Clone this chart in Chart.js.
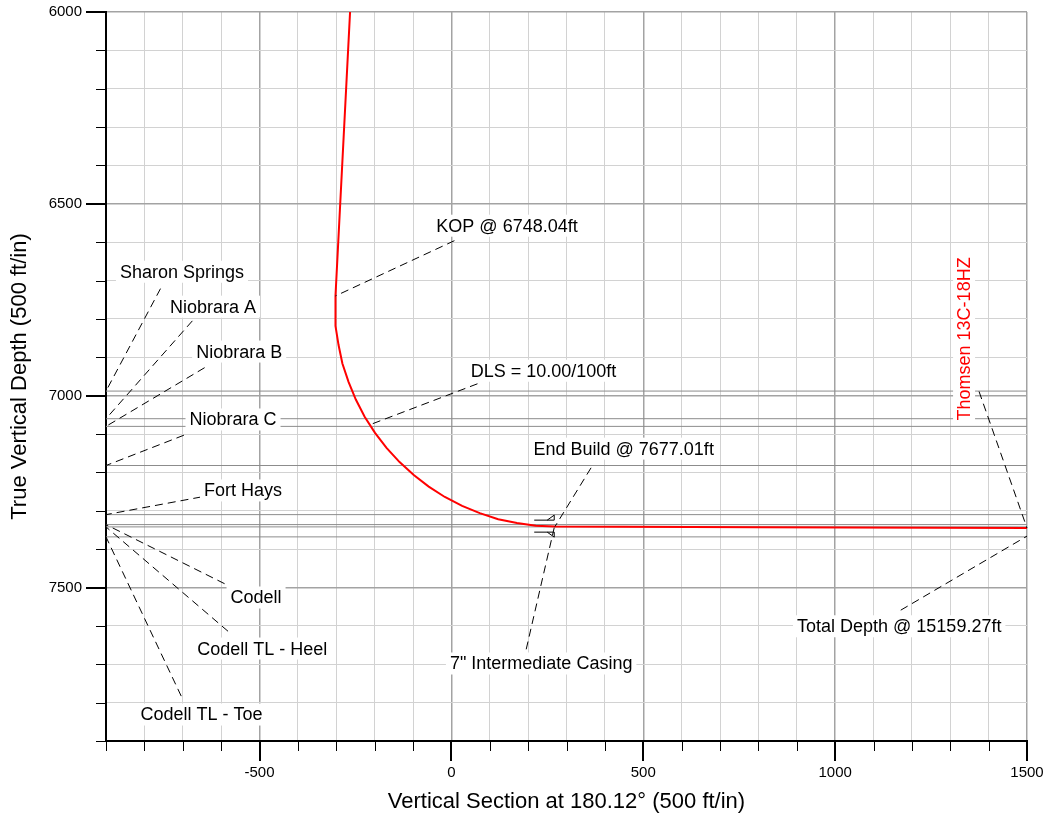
<!DOCTYPE html>
<html>
<head>
<meta charset="utf-8">
<title>Thomsen 13C-18HZ - Vertical Section</title>
<script src="https://cdn.jsdelivr.net/npm/chart.js@4.4.1/dist/chart.umd.min.js"></script>
<style>
  html, body { margin: 0; padding: 0; background: #fff; }
  #wrap { width: 1044px; height: 815px; }
</style>
</head>
<body>
<div id="wrap"><canvas id="sectionChart"></canvas></div>
<script>
// axis ranges and labelled ticks (ft)
const vsRange = [-900, 1500];
const tvdRange = [6000, 7900];
const vsTickLabels = [-500, 0, 500, 1000, 1500];
const tvdTickLabels = [6000, 6500, 7000, 7500];

// well path: vertical section / true vertical depth
const wellVS = [-264, -302, -303, -301, -294, -284, -268, -249, -226, -199, -169, -135,
  -98, -59, -17, 28, 74, 122, 171, 220, 270, 800, 1500];
const wellTVD = [6000, 6740, 6768, 6818, 6868, 6916, 6964, 7010, 7055, 7097, 7136, 7173,
  7207, 7237, 7264, 7287, 7306, 7322, 7332, 7339, 7341, 7343, 7345];

// formation tops
const formationNames = ['Sharon Springs', 'Niobrara A', 'Niobrara B', 'Niobrara C',
  'Fort Hays', 'Codell', 'Codell TL - Heel', 'Codell TL - Toe'];
const formationTVD = [6988, 7060, 7080, 7182, 7310, 7336, 7342, 7368];

// points on the well with a callout
const markerNames = ['KOP @ 6748.04ft', 'DLS = 10.00/100ft', 'End Build @ 7677.01ft',
  '7" Intermediate Casing', 'Total Depth @ 15159.27ft'];
const markerVS = [-302, -213, 270, 268, 1500];
const markerTVD = [6740, 7076, 7341, 7340, 7366];

const wellName = 'Thomsen 13C-18HZ';

// callout placement, in ft: where the text sits and where the leader leaves it
const callouts = [
  { text: formationNames[0], at: [-702, 6677], from: [-758, 6721], to: [vsRange[0], formationTVD[0]] },
  { text: formationNames[1], at: [-621, 6768], from: [-675, 6805], to: [vsRange[0], formationTVD[1]] },
  { text: formationNames[2], at: [-553, 6885], from: [-643, 6927], to: [vsRange[0], formationTVD[2]] },
  { text: formationNames[3], at: [-569, 7062], from: [-697, 7103], to: [vsRange[0], formationTVD[3]] },
  { text: formationNames[4], at: [-543, 7247], from: [-652, 7264], to: [vsRange[0], formationTVD[4]] },
  { text: formationNames[5], at: [-509, 7526], from: [-591, 7490], to: [vsRange[0], formationTVD[5]] },
  { text: formationNames[6], at: [-493, 7659], from: [-582, 7614], to: [vsRange[0], formationTVD[6]] },
  { text: formationNames[7], at: [-651, 7831], from: [-704, 7783], to: [vsRange[0], formationTVD[7]] },
  { text: markerNames[0], at: [145, 6557], from: [8, 6596], to: [markerVS[0], markerTVD[0]] },
  { text: markerNames[1], at: [240, 6935], from: [68, 6969], to: [markerVS[1], markerTVD[1]] },
  { text: markerNames[2], at: [449, 7138], from: [364, 7188], to: [markerVS[2], markerTVD[2]] },
  { text: markerNames[3], at: [234, 7698], from: [195, 7661], to: [markerVS[3], markerTVD[3] + 4] },
  { text: markerNames[4], at: [1167, 7601], from: [1171, 7559], to: [markerVS[4], markerTVD[4]] },
  { text: wellName, at: [1336, 6852], from: [1375, 6989], to: [wellVS[wellVS.length - 1], wellTVD[wellTVD.length - 1]], rotate: true, color: '#ff0000' }
];

Chart.defaults.font.family = '"Liberation Sans", Arial, sans-serif';
Chart.defaults.color = '#000';

const isMajor = v => v % 500 === 0;

// custom tick marks: long at every 500 ft, short at every 100 ft
const axisTicks = {
  id: 'axisTicks',
  afterDraw(chart) {
    const { ctx, chartArea: a, scales: { x, y } } = chart;
    ctx.save();
    ctx.strokeStyle = '#000';
    x.ticks.forEach(t => {
      const px = Math.round(x.getPixelForValue(t.value));
      const major = isMajor(t.value);
      ctx.lineWidth = major ? 2 : 1;
      ctx.beginPath();
      ctx.moveTo(major ? px : px + 0.5, a.bottom);
      ctx.lineTo(major ? px : px + 0.5, a.bottom + (major ? 20 : 10));
      ctx.stroke();
    });
    y.ticks.forEach(t => {
      const py = Math.round(y.getPixelForValue(t.value));
      const major = isMajor(t.value);
      ctx.lineWidth = major ? 2 : 1;
      ctx.beginPath();
      ctx.moveTo(a.left, major ? py : py + 0.5);
      ctx.lineTo(a.left - (major ? 20 : 10), major ? py : py + 0.5);
      ctx.stroke();
    });
    ctx.restore();
  }
};

// casing shoe symbol plus dashed callouts with white text boxes
const callouts_plugin = {
  id: 'callouts',
  afterDatasetsDraw(chart) {
    const { ctx, scales: { x, y } } = chart;
    ctx.save();

    // casing symbol
    const cx = x.getPixelForValue(markerVS[3]);
    const cy = y.getPixelForValue(markerTVD[3]);
    ctx.strokeStyle = '#000';
    ctx.lineWidth = 1;
    [-1, 1].forEach(s => {
      ctx.beginPath();
      ctx.moveTo(cx - 20, cy + s * 6);
      ctx.lineTo(cx, cy + s * 6);
      ctx.lineTo(cx, cy + s * 11);
      ctx.lineTo(cx - 7, cy + s * 6);
      ctx.stroke();
    });

    ctx.font = '18px "Liberation Sans", Arial, sans-serif';
    ctx.textAlign = 'center';
    ctx.textBaseline = 'middle';
    callouts.forEach(c => {
      const lx = x.getPixelForValue(c.at[0]);
      const ly = y.getPixelForValue(c.at[1]);
      ctx.setLineDash([8, 5]);
      ctx.strokeStyle = '#000';
      ctx.lineWidth = 1;
      ctx.beginPath();
      ctx.moveTo(x.getPixelForValue(c.from[0]), y.getPixelForValue(c.from[1]));
      ctx.lineTo(x.getPixelForValue(c.to[0]), y.getPixelForValue(c.to[1]));
      ctx.stroke();
      ctx.setLineDash([]);

      const w = ctx.measureText(c.text).width;
      ctx.save();
      ctx.translate(lx, ly);
      if (c.rotate) ctx.rotate(-Math.PI / 2);
      ctx.fillStyle = '#fff';
      ctx.fillRect(-w / 2 - 4, -11, w + 8, 22);
      ctx.fillStyle = c.color || '#000';
      ctx.fillText(c.text, 0, 1);
      ctx.restore();
    });
    ctx.restore();
  }
};

const toPoints = (xs, ys) => xs.map((v, i) => ({ x: v, y: ys[i] }));

const datasets = [
  {
    label: wellName,
    data: toPoints(wellVS, wellTVD),
    borderColor: '#ff0000',
    borderWidth: 2,
    pointRadius: 0,
    showLine: true,
    tension: 0
  }
].concat(formationTVD.map((tvd, i) => ({
  label: formationNames[i],
  data: toPoints(vsRange, [tvd, tvd]),
  borderColor: '#8c8c8c',
  borderWidth: 1,
  pointRadius: 0,
  showLine: true
})));

const chart = new Chart(document.getElementById('sectionChart'), {
  type: 'scatter',
  data: { datasets },
  options: {
    responsive: true,
    maintainAspectRatio: false,
    animation: false,
    layout: { padding: { top: 12, right: 17, left: 0, bottom: 0 } },
    plugins: {
      legend: { display: false },
      tooltip: { enabled: false }
    },
    scales: {
      x: {
        type: 'linear',
        min: vsRange[0],
        max: vsRange[1],
        afterFit: s => { s.height = 74; s.paddingLeft = 0; s.paddingRight = 0; },
        ticks: {
          stepSize: 100,
          autoSkip: false,
          maxRotation: 0,
          padding: 23,
          font: { size: 15 },
          callback: v => vsTickLabels.includes(v) ? String(v) : ''
        },
        grid: {
          drawTicks: false,
          color: c => isMajor(c.tick.value) ? '#a3a3a3' : '#d2d2d2',
          lineWidth: c => isMajor(c.tick.value) ? 1.5 : 1
        },
        border: { color: '#000', width: 2 },
        title: {
          display: true,
          text: 'Vertical Section at 180.12° (500 ft/in)',
          font: { size: 22 },
          padding: { top: 0, bottom: 0 }
        }
      },
      y: {
        type: 'linear',
        reverse: true,
        min: tvdRange[0],
        max: tvdRange[1],
        afterFit: s => { s.width = 106; s.paddingTop = 0; s.paddingBottom = 0; },
        ticks: {
          stepSize: 100,
          autoSkip: false,
          padding: 24,
          font: { size: 15 },
          callback: v => tvdTickLabels.includes(v) ? String(v) : ''
        },
        grid: {
          drawTicks: false,
          color: c => isMajor(c.tick.value) ? '#a3a3a3' : '#d2d2d2',
          lineWidth: c => isMajor(c.tick.value) ? 1.5 : 1
        },
        border: { color: '#000', width: 2 },
        title: {
          display: true,
          text: 'True Vertical Depth (500 ft/in)',
          font: { size: 22 },
          padding: { top: 7, bottom: 0 }
        }
      }
    }
  },
  plugins: [axisTicks, callouts_plugin]
});
</script>
</body>
</html>
